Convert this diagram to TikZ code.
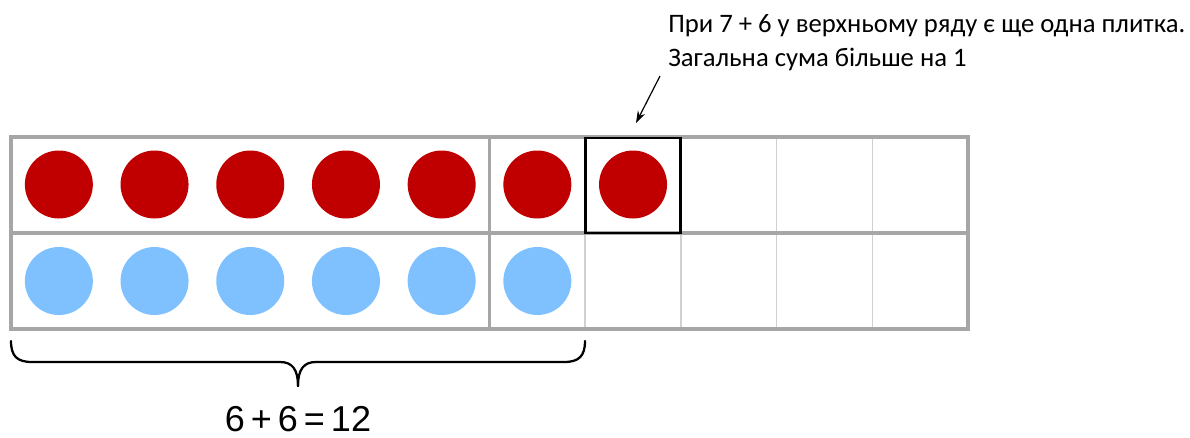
\documentclass[tikz,border=0pt]{standalone}
\usepackage{fontspec}
\setmainfont{Carlito}
\newfontfamily\eqfont{Liberation Sans}
\usetikzlibrary{arrows.meta}
\definecolor{tilered}{HTML}{C00000}
\definecolor{tileblue}{HTML}{7FC1FF}
\definecolor{framegray}{HTML}{A6A6A6}
\definecolor{thingray}{HTML}{D0D0D0}
\tikzset{
  redtile/.style={circle,fill=tilered,draw=none,minimum size=51pt,inner sep=0pt},
  bluetile/.style={circle,fill=tileblue,draw=none,minimum size=51pt,inner sep=0pt},
  thickline/.style={draw=framegray,line width=2.5pt},
  thinline/.style={draw=thingray,line width=1.1pt},
  focusbox/.style={draw=black,line width=1.8pt,minimum width=71.2pt,minimum height=71.2pt,inner sep=0pt},
  notetext/.style={anchor=base west,inner sep=0pt,font=\fontsize{20}{24}\selectfont},
  bracestyle/.style={draw=black,line width=1.7pt,line cap=round,line join=round},
}
\begin{document}
\begin{tikzpicture}[x=0.75pt,y=-0.75pt]
\useasboundingbox (0,0) rectangle (1190,437);
% thin cell lines
\foreach \i in {6,7,8,9}{
  \draw[thinline] ({11+95.7*\i},137) -- ({11+95.7*\i},329);
}
% thick frame
\draw[thickline] (11,137) rectangle (968,329);
\draw[thickline] (11,233) -- (968,233);
\draw[thickline] (489.5,137) -- (489.5,329);
% tiles
\foreach \i in {0,...,6}{
  \node[redtile] (r\i) at ({11+95.7*(\i+0.5)},184.5) {};
}
\foreach \i in {0,...,5}{
  \node[bluetile] (b\i) at ({11+95.7*(\i+0.5)},281) {};
}
% focus box
\node[focusbox] (box) at (633,185.5) {};
% note
\node[notetext] (note1) at (668,32) {При 7 + 6 у верхньому ряду є ще одна плитка.};
\node[notetext] (note2) at (668,66) {Загальна сума більше на 1};
\coordinate (arrstart) at (660,76);
\coordinate (arrend) at (636,123);
\draw[-{Stealth[length=9pt,width=6pt]},line width=0.9pt] (arrstart) -- (arrend);
% brace
\draw[bracestyle] (11,341) .. controls (11,356) and (17,362) .. (32,362) -- (280,362)
  .. controls (292,362) and (298,369) .. (298,386);
\draw[bracestyle] (298,386) .. controls (298,369) and (304,362) .. (316,362) -- (564,362)
  .. controls (579,362) and (585,356) .. (585,341);
\node[anchor=base,inner sep=0pt,font=\eqfont\fontsize{27}{30}\selectfont] (sum) at (298,431) {6\,+\,6\,=\,12};
\end{tikzpicture}
\end{document}
